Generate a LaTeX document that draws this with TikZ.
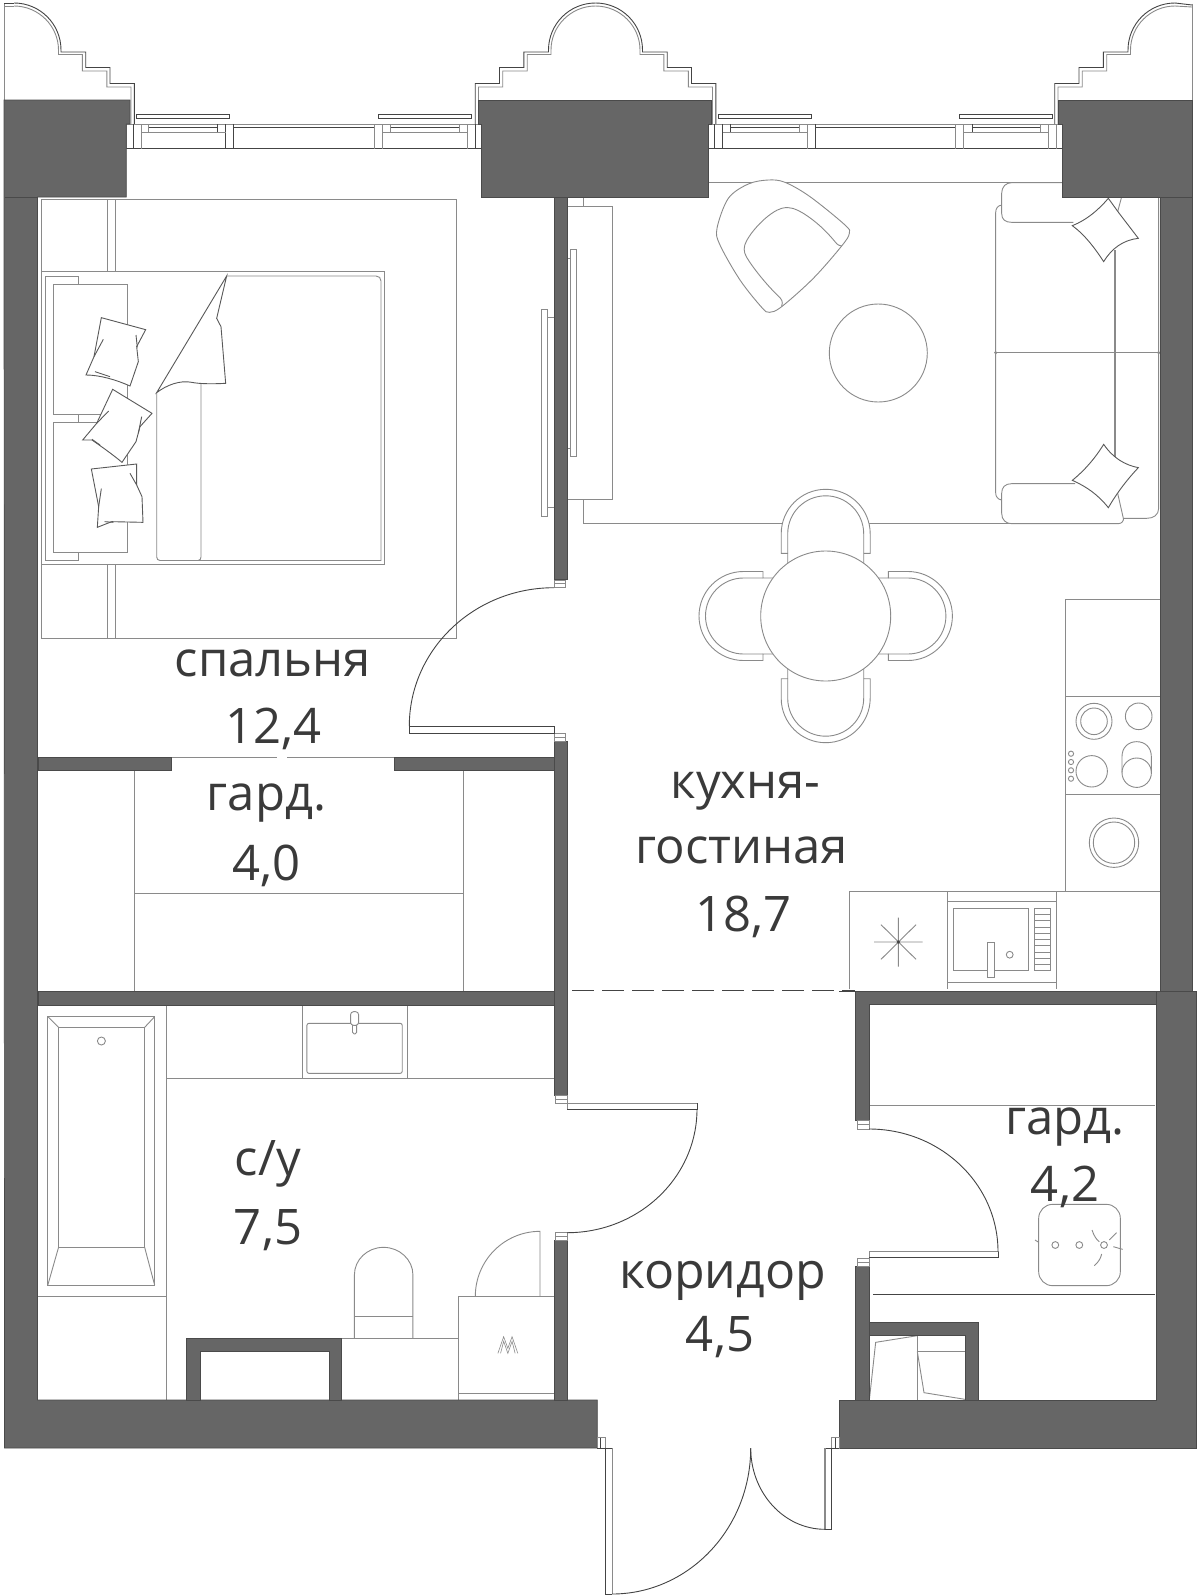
\documentclass[tikz,border=0pt]{standalone}
\usepackage{fontspec}
\setmainfont{Open Sans}
\definecolor{wallc}{HTML}{666666}
\definecolor{walle}{HTML}{4A4A4A}
\definecolor{linec}{HTML}{8A8A8A}
\definecolor{darkl}{HTML}{444444}
\definecolor{txtc}{HTML}{3A3A3A}
\tikzset{
  wall/.style={fill=wallc,draw=walle,line width=0.7pt},
  seam/.style={draw=walle,line width=0.7pt},
  thin line/.style={draw=linec,line width=0.9pt},
  dark line/.style={draw=darkl,line width=0.9pt},
  furn/.style={draw=linec,line width=0.9pt,fill=white},
  roomlabel/.style={anchor=base,inner sep=0pt,text=txtc,font=\fontsize{49}{49}\selectfont},
}
\newcommand\halfdeck[2]{%
\begin{scope}[shift={(#1,0)},xscale=#2]
\draw[thin line] (0,6) .. controls (24.5,6) and (44.5,26) .. (44.5,50) -- (44.5,54.5) -- (68.3,54.5) -- (68.3,71) -- (92.8,71) -- (92.8,87) -- (117,87) -- (117,124);
\draw[dark line] (0,3) .. controls (26,3) and (47,24) .. (47,50) -- (47,52) -- (71.7,52) -- (71.7,67.5) -- (96,67.5) -- (96,83.5) -- (120.3,83.5) -- (120.3,124);
\end{scope}}
\newcommand\dframe[4]{% x1 y1 x2 y2
\draw[thin line,fill=white] (#1,#2) rectangle (#3,#4);
\draw[thin line] (#1,{0.5*(#2+#4)}) -- (#3,{0.5*(#2+#4)});}
\newcommand\chairback{%
\draw[furn] (-38,-52) -- (-38,-62.7) -- (-44.5,-62.7) -- (-44.5,-82.2) .. controls (-44.5,-106.8) and (-24.6,-126.7) .. (0,-126.7) .. controls (24.6,-126.7) and (44.5,-106.8) .. (44.5,-82.2) -- (44.5,-62.7) -- (38,-62.7) -- (38,-52);
\draw[thin line] (38,-62.7) -- (38,-82.2) .. controls (38,-103.2) and (21,-120.2) .. (0,-120.2) .. controls (-21,-120.2) and (-38,-103.2) .. (-38,-82.2) -- (-38,-62.7);}
\begin{document}
\begin{tikzpicture}[x=1pt,y=-1pt]
\useasboundingbox (0,0) rectangle (1201,1595);
\fill[white] (0,0) rectangle (1201,1595);

% balcony decks
\draw[thin line] (4,4) -- (4,100);
\draw[dark line] (4,3) -- (14,3);
\draw[thin line] (4,6) -- (14,6);
\halfdeck{14}{1}
\halfdeck{595.5}{-1}
\halfdeck{595.5}{1}
\halfdeck{1175}{-1}
\draw[dark line] (1175,3) -- (1192,5);
\draw[thin line] (1175,6) -- (1192,7);
\draw[thin line] (1192.5,4) -- (1192.5,100);

% window 1
\draw[thin line,fill=white] (126.3,124) rectangle (481.5,148.5);
\draw[dark line] (126.3,148.5) -- (481.5,148.5);
\draw[dark line] (133,124) -- (133,148.5) (225.5,124) -- (225.5,148.5) (233.5,124) -- (233.5,148.5);
\draw[thin line] (141,124) -- (141,148.5) (374,124) -- (374,148.5) (382.5,124) -- (382.5,148.5) (467,124) -- (467,148.5);
\draw[dark line] (475.5,124) -- (475.5,148.5);
\draw[dark line] (148.5,127) -- (217.5,127) (217.5,124) -- (217.5,132) (233.5,127) -- (374,127) (390,127) -- (459,127);
\draw[thin line] (148.5,124) -- (148.5,132) (141,132) -- (225.5,132) (390,124) -- (390,132) (382.5,132) -- (467,132) (459,124) -- (459,132);
\draw[dark line,fill=white] (136,114.5) rectangle (229.5,118);
\draw[dark line,fill=white] (378,114.5) rectangle (471.5,118);

% window 2
\draw[thin line,fill=white] (708.5,124) rectangle (1062.5,148.5);
\draw[dark line] (708.5,148.5) -- (1062.5,148.5);
\draw[dark line] (714.5,124) -- (714.5,148.5) (722.5,124) -- (722.5,148.5) (815,124) -- (815,148.5);
\draw[thin line] (807,124) -- (807,148.5) (955,124) -- (955,148.5) (963,124) -- (963,148.5) (1048,124) -- (1048,148.5) (1056,124) -- (1056,148.5);
\draw[dark line] (730,127) -- (799,127) (730,124) -- (730,132) (815,127) -- (955,127) (972,127) -- (1040,127) (972,124) -- (972,132);
\draw[thin line] (722.5,132) -- (807,132) (799,124) -- (799,132) (963,132) -- (1048,132) (1040,124) -- (1040,132);
\draw[dark line,fill=white] (718,114.5) rectangle (811,118);
\draw[dark line,fill=white] (959.5,114.5) rectangle (1052.5,118);

% bedroom carpet
\draw[thin line] (41.5,199) rectangle (456.5,638);
\draw[thin line] (107,199) -- (107,271.5) (115,199) -- (115,271.5) (107,564) -- (107,638) (115,564) -- (115,638);

% bed
\draw[furn] (41.5,271.5) rectangle (384,564);
\draw[thin line] (226.7,276) -- (376,276) .. controls (379,276) and (381,278) .. (381,281) -- (381,560.5) -- (160,560.5) .. controls (158,560.5) and (156.7,559) .. (156.7,557) -- (156.7,392.7);
\draw[thin line] (201,383) -- (201,557) .. controls (201,559) and (200,560.5) .. (198,560.5);
\draw[thin line] (78.7,284.3) -- (78.7,276) -- (45.3,276) -- (45.3,560.7) -- (78.7,560.7) -- (78.7,552.3) (78.7,414.3) -- (78.7,422.3);
\draw[thin line] (53.3,284.3) rectangle (127.3,414.3);
\draw[thin line] (53.3,422.3) rectangle (127.3,552.3);
\begin{scope}[shift={(0,260)},scale=0.33333]
% sheet
\draw[furn,draw=darkl!70!linec] (470,398) -- (680,48) -- (650,175) -- (663,200) -- (677,370) .. controls (640,372) and (600,372) .. (575,367) .. controls (540,360) and (500,375) .. (470,398) -- cycle;
% pillows
\draw[furn,draw=darkl!70!linec] (304,173) -- (437,209) -- (410,260) -- (415,305) -- (390,378) .. controls (350,360) and (300,345) .. (258,345) -- (282,290) -- cycle;
\draw[thin line,draw=darkl!70!linec] (310,238) -- (282,290) (408,225) -- (412,262) (285,335) -- (330,350);
\draw[furn,draw=darkl!70!linec] (338,388) -- (456,460) -- (420,500) -- (408,545) -- (366,607) .. controls (340,585) and (305,560) .. (276,540) -- (248,540) -- (290,490) -- cycle;
\draw[thin line,draw=darkl!70!linec] (326,453) -- (290,490) (425,470) -- (415,520) (276,538) -- (300,555);
\draw[furn,draw=darkl!70!linec] (274,627) -- (410,612) -- (410,675) -- (426,710) -- (429,787) -- (335,785) -- (292,802) -- (296,740) -- cycle;
\draw[thin line,draw=darkl!70!linec] (390,640) -- (410,675) (304,686) -- (296,740) (314,785) -- (340,787);
\end{scope}

% living carpet
\draw[thin line] (708,182.3) -- (1063,182.3);
\draw[thin line] (583.7,197) -- (583.7,206.7) (583.7,499.3) -- (583.7,523.5) -- (1012,523.5);

% TV and cabinet
\draw[thin line] (567.7,206.7) -- (612.3,206.7) -- (612.3,499.3) -- (567.7,499.3);
\draw[thin line,fill=white] (570.3,249.3) rectangle (576.7,456);
\draw[thin line] (567.7,258) -- (570.3,258) (567.7,448) -- (570.3,448);
\draw[thin line,fill=white] (541.7,309.3) rectangle (547.7,516);
\draw[thin line] (547.7,317.3) -- (554.3,317.3) (547.7,507.3) -- (554.3,507.3);

% armchair
\begin{scope}[shift={(540,170)},scale=0.33333]
\draw[furn] plot[smooth cycle,tension=0.55] coordinates {(685,30) (735,37) (810,80) (915,165) (928,190) (905,228) (820,325) (725,410) (688,427) (665,412) (600,330) (540,225) (531,175) (565,85) (625,42)};
\draw[thin line] (725,408) .. controls (730,395) and (725,388) .. (715,378) .. controls (680,345) and (640,295) .. (620,262) .. controls (610,245) and (610,230) .. (620,212) .. controls (640,175) and (690,125) .. (725,115) .. controls (750,108) and (770,118) .. (790,130) .. controls (830,155) and (860,185) .. (885,215) .. controls (892,225) and (900,228) .. (905,228);
\end{scope}
\draw[thin line] (878.3,353) circle[radius=49];

% sofa
\begin{scope}[shift={(930,170)},scale=0.33333]
\draw[thin line] (215,105) .. controls (203,107) and (197,115) .. (197,128) -- (197,968) .. controls (197,980) and (203,988) .. (215,990);
\draw[thin line] (552,240) -- (552,860);
\draw[thin line] (556,240) -- (556,860);
\draw[thin line] (197,548) -- (686,548);
\fill[linec] (197,548) circle[radius=5] (686,548) circle[radius=5];
\draw[thin line] (686,80) -- (686,1015) .. controls (686,1035) and (670,1045) .. (650,1045) -- (580,1045);
\draw[thin line] (575,80) -- (563,125);
\draw[furn] (430,157) -- (245,157) .. controls (225,157) and (215,148) .. (215,130) -- (215,70) .. controls (215,50) and (228,38) .. (245,38) -- (400,38);
\draw[furn] (435,941) -- (245,941) .. controls (225,941) and (215,952) .. (215,970) -- (215,1030) .. controls (215,1050) and (228,1061) .. (245,1061) -- (565,1061) .. controls (575,1061) and (582,1052) .. (580,1045) -- (563,970);
\draw[furn,draw=darkl!70!linec] (535,85) -- (566,128) -- (625,205) .. controls (580,210) and (545,235) .. (521,275) .. controls (495,235) and (465,195) .. (427,167) .. controls (470,150) and (505,120) .. (535,85) -- cycle;
\draw[furn,draw=darkl!70!linec] (521,823) .. controls (550,865) and (585,885) .. (625,893) .. controls (590,930) and (560,970) .. (535,1013) .. controls (505,975) and (470,950) .. (427,931) .. controls (465,900) and (495,865) .. (521,823) -- cycle;
\end{scope}

% dining set
\begin{scope}[shift={(825.7,616)}]
\chairback
\begin{scope}[rotate=90]\chairback\end{scope}
\begin{scope}[rotate=180]\chairback\end{scope}
\begin{scope}[rotate=270]\chairback\end{scope}
\draw[furn] (0,0) circle[radius=65];
\end{scope}

% kitchen
\begin{scope}[shift={(830,590)},scale=0.33333]
\draw[thin line] (705,905) -- (705,28) -- (990,28) (705,319) -- (990,319) (705,612) -- (990,612);
\draw[thin line] (58,1198) -- (58,905) -- (990,905);
\draw[thin line] (351,905) -- (351,1198) (679,905) -- (679,1198) (351,934) -- (679,934) (351,1178) -- (679,1178);
\draw[thin line] (370,954) rectangle (596,1141);
\draw[thin line] (613,954) rectangle (660,1141);
\foreach \yy in {972,991,1011,1030,1048,1067,1086,1105,1123} \draw[thin line] (613,\yy) -- (660,\yy);
\draw[furn] (472,1056) rectangle (493,1162);
\draw[thin line] (132,1056) -- (278,1056) (205,983) -- (205,1130) (153,1004) -- (258,1108) (258,1004) -- (153,1108);
\fill[darkl] (205,1056) circle[radius=5];
\draw[thin line] (876,548) -- (876,500) .. controls (876,472) and (895,455) .. (920,455) .. controls (945,455) and (964,472) .. (964,500) -- (964,548);
\end{scope}
\draw[thin line] (1009.7,954.7) circle[radius=3.4];
\draw[thin line] (1094,721.3) circle[radius=18] (1094,721.3) circle[radius=13.3];
\draw[thin line] (1138.7,716.3) circle[radius=13.3];
\draw[thin line] (1091.7,771.3) circle[radius=15.7];
\draw[thin line] (1136.7,772.7) circle[radius=14.7];
\foreach \yy in {753.7,762,770.3,778.7} \draw[thin line] (1071,\yy) circle[radius=2.6];
\draw[thin line] (1114,842.7) circle[radius=24.7] (1114,842.7) circle[radius=20.7];

% bathroom
\begin{scope}[shift={(0,990)},xscale=0.3827,yscale=0.33333]
\draw[thin line] (434,45) -- (434,1230) (434,265) -- (1447,265) (790,45) -- (790,265) (1064,45) -- (1064,265) (99,919) -- (434,919);
\draw[thin line] (125,80) rectangle (404,885);
\draw[thin line] (153,112) rectangle (378,772);
\draw[thin line] (125,80) -- (153,112) (404,80) -- (378,112) (153,772) -- (125,885) (378,772) -- (404,885);
\draw[thin line,rounded corners=2pt] (802,100) rectangle (1051,250);
\draw[furn,rounded corners=1.8pt] (921,90) rectangle (932,132);
\draw[furn,rounded corners=3pt] (916,65) rectangle (937,106);
\draw[thin line] (926,1045) -- (926,855) .. controls (926,809) and (960,772) .. (1002,772) .. controls (1044,772) and (1079,809) .. (1079,855) -- (1079,1045);
\draw[thin line] (926,979) -- (1079,979) (893,1045) -- (1200,1045);
\draw[thin line] (1199,1230) -- (1199,919) -- (1448,919) (1199,1210) -- (1448,1210);
\draw[thin line] (1242,919) .. controls (1242,811.3) and (1317.7,724) .. (1411,724) -- (1411,919);
\draw[thin line,line width=0.6pt] (1301,1090) -- (1316,1040) -- (1327,1075) -- (1338,1040) -- (1353,1090);
\draw[thin line,line width=0.6pt] (1308,1090) -- (1316,1054) -- (1327,1090) -- (1338,1054) -- (1346,1090);
\end{scope}
\draw[thin line] (101.4,1041) circle[radius=4];

% wardrobe (upper)
\draw[thin line] (134,770) -- (134,991) (463.7,770) -- (463.7,991) (134,893) -- (463.7,893);
\draw[thin line] (171,757.5) -- (277,757.5) (287,757.5) -- (394,757.5);
\draw[thin line] (37.5,757.5) -- (45,757.5);

% wardrobe (lower right)
\begin{scope}[shift={(840,990)},scale=0.33333]
\draw[thin line] (88,345) -- (945,345);
\draw[dark line] (100,913) -- (945,913);
\draw[thin line,rounded corners=14pt] (596,643) rectangle (841,887);
\draw[thin line] (756,720) .. controls (762,738) and (770,750) .. (778,755) (830,728) -- (808,750) (820,770) -- (848,778) (785,792) .. controls (782,805) and (775,817) .. (763,827) (585,750) -- (596,757);
\draw[thin line] (232,1037) -- (232,1230) (232,1084) -- (377,1084);
\draw[thin line] (88,1230) -- (107,1057) -- (232,1037);
\draw[thin line] (232,1085) -- (252,1208) -- (375,1228);
\end{scope}
\draw[thin line] (1055.3,1245) circle[radius=3.4] (1079.3,1245) circle[radius=3.4] (1104,1245) circle[radius=3.4];

% dashed opening
\draw[dark line,dash pattern=on 22pt off 8pt] (572,990.8) -- (855,990.8);

% walls
\path[wall] (4,100) -- (130,100) -- (130,124) -- (126.3,124) -- (126.3,197) -- (37.5,197) -- (37.5,1400) -- (597.3,1400) -- (597.3,1448) -- (4.5,1448) -- cycle;
\path[wall] (478.4,100) -- (711,100) -- (711,124) -- (708,124) -- (708,197) -- (481.5,197) -- (481.5,124) -- (478.4,124) -- cycle;
\path[wall] (1058.5,100) -- (1192.5,100) -- (1192.5,991.7) -- (1160,991.7) -- (1160,197) -- (1062.5,197) -- (1062.5,124) -- (1058.5,124) -- cycle;
\path[wall] (554.3,197) rectangle (567.7,579.5);
\path[wall] (38,757) rectangle (171,770);
\path[wall] (394,757) rectangle (555,770);
\path[wall] (38,991.7) rectangle (567.7,1005);
\path[wall] (554.3,741) rectangle (567.7,1095);
\path[wall] (554.3,1240) rectangle (567.7,1400);
\path[wall] (855.3,991.7) -- (1156,991.7) -- (1156,1004.3) -- (869.3,1004.3) -- (869.3,1120.7) -- (855.3,1120.7) -- cycle;
\path[wall] (855.3,1266) rectangle (869.3,1400);
\path[wall] (869.3,1322.3) -- (978.7,1322.3) -- (978.7,1400) -- (965.7,1400) -- (965.7,1335.7) -- (869.3,1335.7) -- cycle;
\path[wall] (1156,991.7) -- (1196.7,991.7) -- (1196.7,1448) -- (839.3,1448) -- (839.3,1400) -- (1156,1400) -- cycle;
\path[wall] (186.4,1338.3) -- (341.7,1338.3) -- (341.7,1400) -- (329.5,1400) -- (329.5,1351.7) -- (200.2,1351.7) -- (200.2,1400) -- (186.4,1400) -- cycle;
\draw[dark line] (839,991.2) -- (856,991.2);
\draw[seam] (4.5,197) -- (37.5,197) (1160,197) -- (1192.5,197);
\draw[seam] (855.3,1400) -- (1156,1400) (1156,991.7) -- (1156,1400);

% doors
\dframe{554.3}{580}{565.7}{587.7}
\dframe{554.3}{733.3}{565.7}{741}
\draw[dark line,fill=white] (409.3,726) rectangle (554.3,733.3);
\draw[dark line] (409.3,726) .. controls (409.3,649.6) and (474.1,587.7) .. (554,587.7);
\dframe{555}{1095}{567}{1103}
\dframe{555}{1232.7}{567}{1240}
\draw[thin line,fill=white] (567,1103) rectangle (697,1109);
\draw[dark line] (567,1109) -- (697,1109) -- (697,1103);
\draw[dark line] (697,1109) .. controls (697,1177.3) and (638.8,1232.7) .. (567,1232.7);
\dframe{857.3}{1120.7}{869}{1129}
\dframe{857.3}{1258.3}{869}{1266}
\draw[thin line,fill=white] (869,1251.7) rectangle (998,1257.7);
\draw[dark line] (998,1251.7) -- (998,1257.7) -- (869,1257.7);
\draw[dark line] (869,1129) .. controls (940.2,1129) and (998,1183.9) .. (998,1251.7);
% entry
\draw[thin line,fill=white] (597.3,1437.7) rectangle (605.3,1448);
\draw[dark line] (600.5,1437.7) -- (600.5,1448);
\draw[thin line,fill=white] (831.7,1437.7) rectangle (839.3,1448);
\draw[dark line] (835.5,1437.7) -- (835.5,1448);
\draw[dark line] (597.3,1448) -- (612,1448) (825,1448) -- (839.3,1448);
\draw[dark line] (605.3,1448) -- (605.3,1594) -- (612,1594);
\draw[thin line] (612,1448) -- (612,1594);
\draw[thin line,line width=1.4pt] (825,1448) -- (825,1529.3);
\draw[dark line] (825,1529.3) -- (831.7,1529.3) -- (831.7,1448);
\draw[dark line] (612,1594) .. controls (688.6,1594) and (750.7,1528.6) .. (750.7,1448);
\draw[dark line] (825,1529.3) .. controls (784,1529.3) and (750.7,1492.9) .. (750.7,1448);

% labels
\node[roomlabel] (l1) at (273,676.5) {спальня};
\node[roomlabel] (l2) at (273.5,743.6) {12,4};
\node[roomlabel] (l3) at (266.5,810) {гард.};
\node[roomlabel] (l4) at (266.5,880.5) {4,0};
\node[roomlabel] (l5) at (745.6,798.5) {кухня-};
\node[roomlabel] (l6) at (741.5,863.6) {гостиная};
\node[roomlabel] (l7) at (743.6,931) {18,7};
\node[roomlabel] (l8) at (1065,1134) {гард.};
\node[roomlabel] (l9) at (1065,1201.7) {4,2};
\node[roomlabel] (l10) at (268,1175) {с/у};
\node[roomlabel] (l11) at (268,1244) {7,5};
\node[roomlabel] (l12) at (722.5,1288) {\fontsize{50}{50}\selectfont коридор};
\node[roomlabel] (l13) at (720,1351) {4,5};
\end{tikzpicture}
\end{document}
